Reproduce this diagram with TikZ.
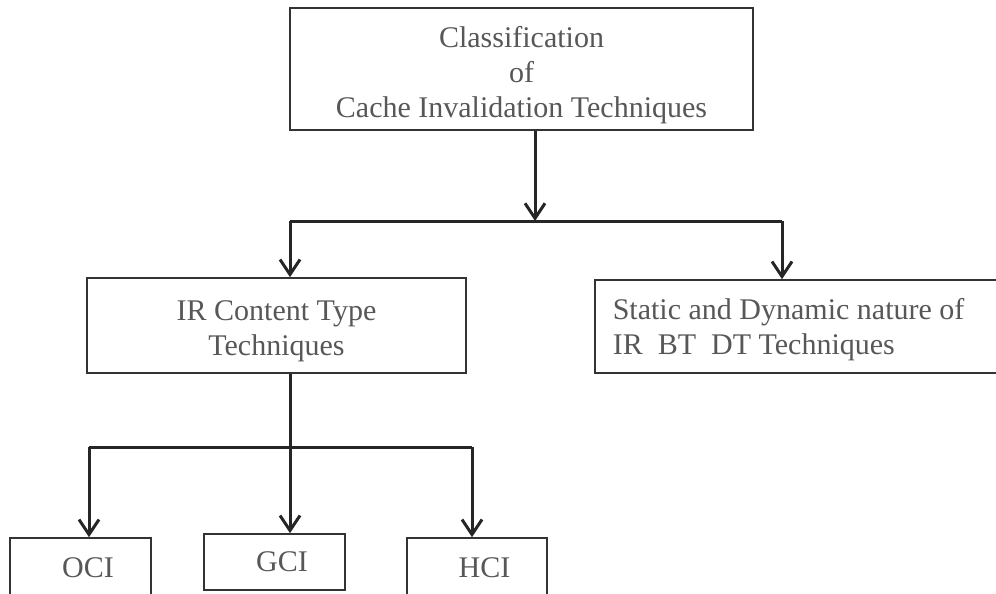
\documentclass[tikz,border=0pt]{standalone}
\usepackage{fontspec}
\setmainfont{Liberation Serif}
\usetikzlibrary{arrows.meta}

\definecolor{txtgray}{HTML}{575757}
\definecolor{boxgray}{HTML}{333333}
\newcommand{\upstrut}[1]{\rule{0pt}{#1}}

\begin{document}
\begin{tikzpicture}[x=1pt,y=1pt,
    box/.style={draw=boxgray,line width=1.6pt,text=txtgray,align=center,
      font=\fontsize{30}{35}\selectfont,inner sep=0pt},
    ln/.style={line width=3pt,color=black!85},
    arr/.style={ln,-{Straight Barb[length=15pt,width=20pt,line width=3pt]}}]
  \useasboundingbox (0,0) rectangle (996,-594);

  \node[box,minimum width=463pt,minimum height=122pt] (top) at (521.5,-69)
    {\upstrut{33pt}Classification\\of\\Cache Invalidation Techniques};
  \node[box,minimum width=379pt,minimum height=95pt] (ir) at (276.5,-325.5)
    {\upstrut{32pt}IR Content Type\\Techniques};
  \node[box,anchor=west,align=flush left,text width=400pt,inner xsep=18pt,
    minimum height=93pt] (st) at (594,-326.5)
    {\upstrut{28pt}Static and Dynamic nature of\\IR\ \ BT\ \ DT Techniques};
  \node[box,minimum width=141pt,minimum height=60pt] (oci) at (80.5,-568) {\ \ OCI};
  \node[box,minimum width=141pt,minimum height=56pt] (gci) at (274.5,-562) {\ \ GCI};
  \node[box,minimum width=140pt,minimum height=60pt] (hci) at (477,-568) {\ \ HCI};

  \coordinate (j) at (535,-221);
  \coordinate (jl) at (290,-221);
  \coordinate (jr) at (782,-221);
  \coordinate (k) at (290,-447);
  \coordinate (kl) at (89,-447);
  \coordinate (kr) at (472,-447);

  \draw[arr] (top.south -| j) -- (j);
  \draw[ln] (jl) -- (jr);
  \draw[arr] (jl) -- (jl |- ir.north);
  \draw[arr] (jr) -- (jr |- st.north);

  \draw[ln] (ir.south -| k) -- (k);
  \draw[ln] (kl) -- (kr);
  \draw[arr] (kl) -- (kl |- oci.north);
  \draw[arr] (k) -- (k |- gci.north);
  \draw[arr] (kr) -- (kr |- hci.north);
\end{tikzpicture}
\end{document}
